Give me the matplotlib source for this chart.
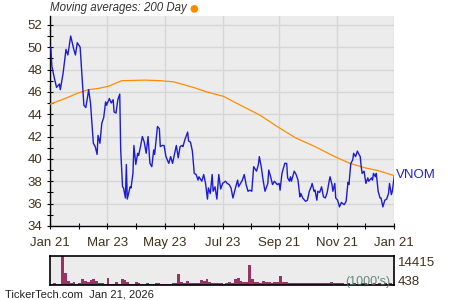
import numpy as np
import pandas as pd
import matplotlib
matplotlib.use("Agg")
import matplotlib.pyplot as plt
from matplotlib.dates import DateFormatter

plt.rcParams['font.family'] = ['Liberation Sans', 'DejaVu Sans']

START = pd.Timestamp("2025-01-21")
END = pd.Timestamp("2026-01-21")

# closing price (days since START)
price_days = [0, 1, 2, 5, 7, 10, 11, 14, 17, 19, 22, 25, 27, 29, 32, 34, 36, 38, 40, 41,
              43, 46, 48, 50, 51, 53, 55, 57, 59, 60, 63, 65, 67, 68, 70, 72, 74, 75, 77, 78,
              80, 81, 82, 85, 86, 88, 89, 91, 93, 94, 96, 98, 100, 102, 104, 105, 106, 108, 110, 111,
              114, 116, 117, 119, 121, 123, 126, 128, 130, 133, 134, 136, 138, 140, 141, 143, 146, 147, 149, 151,
              153, 155, 157, 158, 161, 163, 165, 167, 168, 170, 172, 173, 175, 177, 179, 181, 183, 186, 188, 190,
              192, 194, 197, 199, 200, 202, 204, 206, 208, 210, 212, 214, 216, 219, 221, 222, 224, 226, 228, 231,
              232, 234, 236, 238, 241, 243, 244, 246, 249, 251, 252, 254, 255, 256, 259, 261, 263, 265, 266, 268,
              271, 273, 275, 277, 278, 280, 281, 283, 284, 286, 288, 290, 292, 294, 296, 297, 299, 300, 302, 303,
              305, 307, 309, 312, 314, 316, 317, 319, 321, 322, 324, 326, 327, 329, 330, 331, 333, 335, 337, 338,
              341, 342, 343, 345, 346, 348, 350, 351, 353, 355, 357, 359, 360, 362, 363, 365]
price_vals = [50.0, 49.9, 48.3, 47.1, 46.4, 46.7, 46.2, 47.7, 49.8, 49.3, 51.0, 49.9, 49.3, 50.4, 50.0, 47.4, 44.8, 44.6, 45.6, 46.2,
              45.0, 41.4, 41.1, 40.4, 42.1, 41.4, 43.2, 43.7, 45.1, 44.8, 45.4, 45.0, 45.3, 44.2, 44.1, 45.3, 45.8, 40.8, 37.5, 37.4,
              36.5, 39.5, 36.4, 37.5, 37.4, 38.7, 41.2, 39.5, 40.5, 40.3, 41.1, 42.0, 41.5, 40.5, 42.0, 40.8, 39.6, 39.3, 40.8, 40.4,
              42.9, 42.7, 41.1, 41.2, 41.2, 40.2, 39.6, 40.2, 39.6, 40.8, 41.2, 40.1, 41.1, 41.2, 41.1, 41.7, 42.4, 41.6, 41.5, 40.7,
              38.7, 38.6, 38.1, 38.4, 38.0, 38.6, 37.8, 36.4, 37.4, 36.9, 38.6, 37.1, 37.5, 36.4, 38.6, 37.3, 37.8, 38.0, 37.8, 37.7,
              37.4, 36.5, 37.5, 38.1, 37.5, 37.8, 38.1, 38.6, 37.7, 37.1, 37.2, 37.1, 39.3, 38.9, 39.5, 40.2, 39.3, 38.1, 37.1, 37.8,
              39.0, 38.4, 37.7, 38.0, 37.7, 37.8, 37.2, 38.7, 39.6, 39.6, 38.3, 38.0, 38.4, 38.0, 38.9, 38.6, 38.1, 36.6, 36.9, 36.5,
              36.2, 36.3, 37.1, 37.5, 37.8, 37.1, 37.2, 36.3, 37.1, 37.0, 37.5, 36.6, 36.5, 37.0, 38.0, 38.4, 37.7, 37.1, 37.8, 36.5,
              36.3, 35.7, 36.1, 35.9, 36.2, 37.9, 37.7, 39.6, 39.9, 40.5, 40.2, 40.7, 40.5, 40.2, 39.3, 38.7, 38.9, 37.8, 38.3, 38.0,
              38.3, 38.1, 38.7, 38.4, 38.7, 37.1, 36.5, 36.5, 35.7, 36.3, 36.4, 36.9, 37.8, 36.8, 37.1, 38.4]

# 200 day moving average
ma_days = [0, 16, 30, 41, 51, 62, 76, 101, 117, 131, 152, 166, 184, 202, 223, 239, 260, 281, 302, 318, 334, 348, 365]
ma_vals = [44.9, 45.4, 45.9, 46.2, 46.3, 46.5, 47.0, 47.05, 47.0, 46.9, 46.4, 46.0, 45.6, 44.8, 43.9, 43.0, 41.9, 41.1, 40.2,
           39.6, 39.2, 38.95, 38.5]

# volume (thousands), one value per 3 days
vol_vals = [350, 850, 350, 350, 14415, 6000, 1900, 1000, 1300, 700, 900, 2900, 2200, 1500, 2400, 2900, 2000, 1000, 800, 600,
            3500, 700, 700, 1500, 600, 2900, 2600, 1500, 700, 600, 1700, 1000, 350, 350, 850, 600, 700, 1100, 1100, 600,
            600, 500, 400, 1000, 1000, 5600, 1500, 1000, 2000, 1000, 1100, 900, 1000, 2500, 2200, 3200, 1500, 1200, 1100, 800,
            800, 700, 800, 1700, 1000, 3200, 3500, 2200, 1500, 1500, 9700, 3000, 1700, 1700, 1200, 2200, 1300, 1300, 1200, 1400,
            1300, 4600, 1700, 1700, 1000, 1200, 900, 1100, 800, 1200, 1000, 900, 1100, 800, 1000, 1200, 900, 800, 1000, 1300,
            900, 1000, 800, 1100, 700, 800, 600, 900, 700, 600, 800, 1000, 700, 600, 800, 700, 900, 600, 800, 700,
            900, 600]
vol_days = np.arange(len(vol_vals)) * 3

tick_dates = ["2025-01-21", "2025-03-23", "2025-05-23", "2025-07-23", "2025-09-21", "2025-11-21", "2026-01-21"]

BG = "#ececec"
GRID = "#d6d6d6"
TXT = "#40321a"


def to_dates(days):
    return START + pd.to_timedelta(np.asarray(days), unit="D")


fig = plt.figure(figsize=(4.5, 3.0), dpi=100)
ax = fig.add_axes([0.111, 0.247, 0.765, 0.700])
vax = fig.add_axes([0.111, 0.050, 0.765, 0.097])

ax.set_facecolor(BG)
ax.plot(to_dates(ma_days), ma_vals, color="#ff8c00", lw=0.9, zorder=3)
ax.plot(to_dates(price_days), price_vals, color="#1c1cd8", lw=1.0, zorder=4)

ax.set_xlim(START, END)
ax.set_ylim(34, 52.8)
ticks = pd.to_datetime(tick_dates)
ax.set_xticks(ticks)
ax.set_xticks(ticks[:-1] + (ticks[1:] - ticks[:-1]) / 2, minor=True)
ax.xaxis.set_major_formatter(DateFormatter("%b %d"))
ax.set_yticks(np.arange(34, 53, 2))
ax.set_yticks(np.arange(35, 53, 2), minor=True)
ax.grid(True, which="major", color=GRID, lw=1.0)
ax.set_axisbelow(True)
for s in ["top", "right"]:
    ax.spines[s].set_visible(False)
for s in ["left", "bottom"]:
    ax.spines[s].set_color("black")
    ax.spines[s].set_linewidth(1.0)
ax.tick_params(which="both", direction="inout", length=4, width=0.8, colors="black",
               labelcolor=TXT, labelsize=9.5)
ax.tick_params(axis="x", pad=6)

ax.text(1.005, 38.6, "VNOM", transform=ax.get_yaxis_transform(), color="#2222dd",
        fontsize=9.5, va="center", ha="left")
fig.text(0.111, 0.972, "Moving averages: 200 Day", style="italic", fontsize=8.3,
         color="#333333", ha="left", va="center")
fig.text(0.420, 0.972, "\u25cf", fontsize=13, color="#ff8c00", ha="left", va="center")

vax.set_facecolor(BG)
vax.bar(to_dates(vol_days), vol_vals, width=3, align="edge", color="#993366", lw=0)
vax.set_xlim(START, END)
vax.set_ylim(0, 14415)
vax.set_xticks([])
vax.set_yticks([])
for s in vax.spines.values():
    s.set_color("black")
    s.set_linewidth(1.2)
vax.text(1.01, 0.75, "14415", transform=vax.transAxes, fontsize=9.5, color=TXT, va="center")
vax.text(1.01, 0.10, "438", transform=vax.transAxes, fontsize=9.5, color=TXT, va="center")
vax.text(0.99, 0.12, "(1000's)", transform=vax.transAxes, fontsize=9, color="#4f7a62",
         alpha=0.85, ha="right", va="center")

fig.text(0.011, 0.018, "TickerTech.com  Jan 21, 2026", fontsize=8, color="#222222",
         ha="left", va="center")

fig.savefig("out.png", dpi=100)
